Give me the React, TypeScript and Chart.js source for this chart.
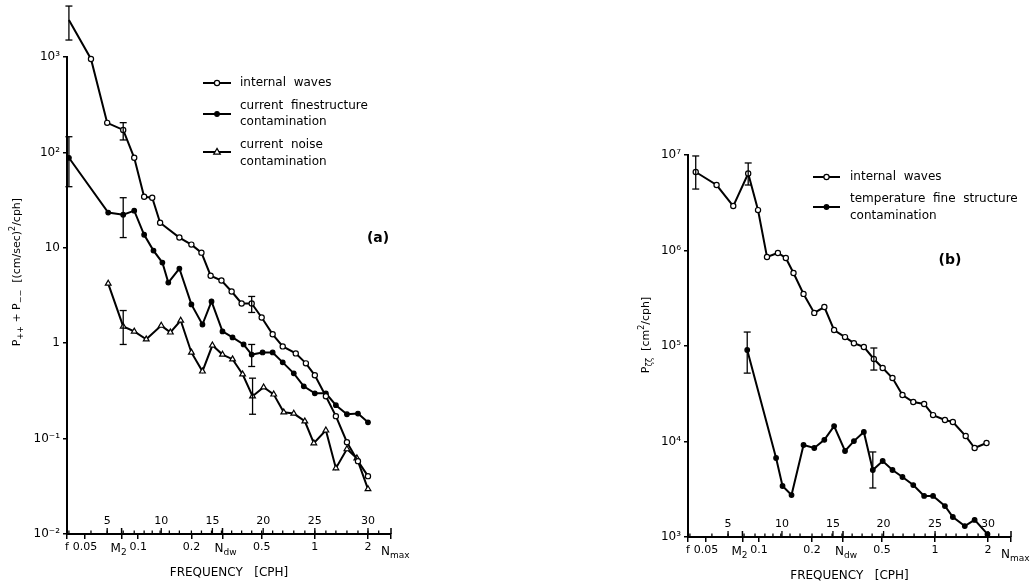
import React, { useEffect, useRef } from 'react';
import { Chart, registerables } from 'chart.js';

Chart.register(...registerables);

const FONT = "'DejaVu Sans', 'Liberation Sans', sans-serif";
Chart.defaults.font.family = FONT;
Chart.defaults.color = '#000';

// ---------- shared axis data ----------
const xTickVals = [0.0395, 0.05, 0.0805, 0.1, 0.2, 0.3, 0.5, 1, 2, 2.7];
const xTickLabels = ['f', '0.05', '', '0.1', '0.2', '', '0.5', '1', '2', ''];
// labels with subscripts, drawn beside their ticks: [frequency, main text, subscript]
const subLabelFreqs = [0.0805, 0.3, 2.7];
const subLabelMain = ['M', 'N', 'N'];
const subLabelSub = ['2', 'dw', 'max'];
const bandTickFreqs = [0.0405, 0.054, 0.0667, 0.0822, 0.0949, 0.108, 0.12, 0.133, 0.15, 0.171, 0.2, 0.228, 0.26, 0.296, 0.338, 0.385, 0.439, 0.5, 0.577, 0.658, 0.76, 0.878, 1.0, 1.155, 1.316, 1.52, 1.755, 2.0, 2.3];
const bandNums = [5, 10, 15, 20, 25, 30];
const bandNumFreqs = [0.0667, 0.135, 0.263, 0.51, 1.0, 2.0];
const crossTickFreqs = [0.0805, 0.3, 2.7];

// ---------- panel (a) ----------
const aYTickVals = [0.01, 0.1, 1, 10, 100, 1000];
const aYTickLabels = ['10⁻²', '10⁻¹', '1', '10', '10²', '10³'];

const aWavesFreq = [0.0405, 0.054, 0.0667, 0.0822, 0.0949, 0.108, 0.12, 0.133, 0.171, 0.2, 0.228, 0.257, 0.296, 0.338, 0.385, 0.439, 0.5, 0.577, 0.658, 0.78, 0.89, 1.0, 1.155, 1.316, 1.52, 1.755, 2.0];
const aWavesVal = [2440, 953, 204, 172, 87.8, 34.3, 33.5, 18.3, 12.8, 10.8, 8.9, 5.1, 4.54, 3.48, 2.61, 2.61, 1.86, 1.24, 0.926, 0.782, 0.615, 0.461, 0.278, 0.172, 0.0917, 0.058, 0.0404];

const aFineFreq = [0.0405, 0.0676, 0.0822, 0.0949, 0.108, 0.122, 0.137, 0.148, 0.171, 0.2, 0.231, 0.26, 0.3, 0.342, 0.395, 0.439, 0.506, 0.577, 0.658, 0.76, 0.866, 1.0, 1.155, 1.316, 1.52, 1.755, 2.0];
const aFineVal = [87.8, 23.4, 22.2, 24.5, 13.7, 9.35, 7.0, 4.32, 6.06, 2.55, 1.57, 2.74, 1.33, 1.15, 0.97, 0.76, 0.8, 0.8, 0.63, 0.483, 0.353, 0.298, 0.298, 0.224, 0.18, 0.183, 0.148];

const aNoiseFreq = [0.0676, 0.0822, 0.0949, 0.111, 0.135, 0.152, 0.174, 0.2, 0.231, 0.263, 0.3, 0.342, 0.39, 0.444, 0.513, 0.585, 0.667, 0.76, 0.878, 0.987, 1.155, 1.316, 1.52, 1.73, 2.0];
const aNoiseVal = [4.22, 1.5, 1.33, 1.1, 1.53, 1.3, 1.73, 0.8, 0.507, 0.95, 0.76, 0.68, 0.472, 0.278, 0.345, 0.291, 0.189, 0.183, 0.152, 0.0896, 0.122, 0.049, 0.0776, 0.0624, 0.0296];

const aErrFreq = [0.0405, 0.0822, 0.439, 0.0405, 0.0822, 0.439, 0.0822, 0.444];
const aErrLow = [1506, 135, 2.1, 43.7, 12.8, 0.57, 0.97, 0.18];
const aErrHigh = [3420, 205, 3.09, 146, 33.5, 0.97, 2.2, 0.43];

// ---------- panel (b) ----------
const bYTickVals = [1e3, 1e4, 1e5, 1e6, 1e7];
const bYTickLabels = ['10³', '10⁴', '10⁵', '10⁶', '10⁷'];

const bWavesFreq = [0.0437, 0.0574, 0.0714, 0.0868, 0.0987, 0.111, 0.128, 0.142, 0.157, 0.179, 0.206, 0.235, 0.267, 0.308, 0.346, 0.394, 0.449, 0.504, 0.573, 0.653, 0.752, 0.867, 0.974, 1.138, 1.262, 1.493, 1.678, 1.96];
const bWavesVal = [6.64e6, 4.85e6, 2.92e6, 6.4e6, 2.65e6, 8.55e5, 9.42e5, 8.34e5, 5.81e5, 3.51e5, 2.22e5, 2.56e5, 1.47e5, 1.24e5, 1.07e5, 9.77e4, 7.31e4, 5.89e4, 4.62e4, 3.07e4, 2.59e4, 2.47e4, 1.89e4, 1.68e4, 1.6e4, 1.14e4, 8.55e3, 9.64e3];

const bFineFreq = [0.0857, 0.125, 0.136, 0.153, 0.179, 0.206, 0.235, 0.267, 0.308, 0.346, 0.394, 0.443, 0.504, 0.573, 0.653, 0.752, 0.867, 0.974, 1.138, 1.262, 1.475, 1.678, 1.985];
const bFineVal = [9.08e4, 6.72e3, 3.42e3, 2.75e3, 9.19e3, 8.55e3, 1.04e4, 1.45e4, 7.95e3, 1.01e4, 1.26e4, 5.03e3, 6.25e3, 5.03e3, 4.25e3, 3.5e3, 2.69e3, 2.69e3, 2.11e3, 1.62e3, 1.3e3, 1.51e3, 1.07e3];

const bErrFreq = [0.0437, 0.0868, 0.449, 0.0857, 0.443];
const bErrLow = [4.4e6, 4.85e6, 5.6e4, 5.2e4, 3.26e3];
const bErrHigh = [9.77e6, 8.25e6, 9.53e4, 1.4e5, 7.77e3];

// ---------- helpers ----------
type Part = { t: string; k?: 'sub' | 'sup' };
type MarkStyle = 'open' | 'filled' | 'triangle';

function partFont(size: number, k?: string) {
  return `${k ? Math.round(size * 0.72) : size}px ${FONT}`;
}
function richWidth(ctx: CanvasRenderingContext2D, parts: Part[], size: number) {
  let w = 0;
  for (const p of parts) {
    ctx.font = partFont(size, p.k);
    w += ctx.measureText(p.t).width;
  }
  return w;
}
function drawRich(ctx: CanvasRenderingContext2D, parts: Part[], x: number, y: number, size: number, align: 'left' | 'center') {
  let cx = align === 'center' ? x - richWidth(ctx, parts, size) / 2 : x;
  ctx.textAlign = 'left';
  ctx.textBaseline = 'middle';
  for (const p of parts) {
    ctx.font = partFont(size, p.k);
    const dy = p.k === 'sub' ? size * 0.32 : p.k === 'sup' ? -size * 0.38 : 0;
    ctx.fillText(p.t, cx, y + dy);
    cx += ctx.measureText(p.t).width;
  }
}
function drawMarker(ctx: CanvasRenderingContext2D, style: MarkStyle, x: number, y: number) {
  ctx.save();
  ctx.lineWidth = 1.2;
  ctx.strokeStyle = '#000';
  ctx.beginPath();
  if (style === 'triangle') {
    ctx.moveTo(x, y - 3.6);
    ctx.lineTo(x + 3.3, y + 2.2);
    ctx.lineTo(x - 3.3, y + 2.2);
    ctx.closePath();
    ctx.fillStyle = '#fff';
  } else {
    ctx.arc(x, y, style === 'open' ? 2.6 : 2.3, 0, Math.PI * 2);
    ctx.fillStyle = style === 'open' ? '#fff' : '#000';
  }
  ctx.fill();
  ctx.stroke();
  ctx.restore();
}

type LegendItem = { style: MarkStyle; y: number; lines: string[]; lineYs: number[] };
type Decor = {
  id: string;
  offsetX: number;
  errFreq: number[];
  errLow: number[];
  errHigh: number[];
  legendX1: number;
  legendX2: number;
  legendTextX: number;
  legend: LegendItem[];
  label: string;
  labelX: number;
  labelY: number;
  yTitle: Part[];
  yTitleX: number;
  yTitleY: number;
  yTitleSize: number;
};

const subLabelDx = [-11, -8, -10];
const subLabelDy = [15, 15, 18];

function decorPlugin(d: Decor) {
  return {
    id: 'decor' + d.id,
    afterDraw(chart: any) {
      const ctx: CanvasRenderingContext2D = chart.ctx;
      const xs = chart.scales.x;
      const ys = chart.scales.y;
      const ca = chart.chartArea;
      const ox = d.offsetX;
      const line = (x1: number, y1: number, x2: number, y2: number) => {
        ctx.beginPath();
        ctx.moveTo(x1, y1);
        ctx.lineTo(x2, y2);
        ctx.stroke();
      };
      ctx.save();
      ctx.strokeStyle = '#000';
      ctx.fillStyle = '#000';

      // band ticks above the frequency axis
      ctx.lineWidth = 1.3;
      for (const f of bandTickFreqs) {
        const px = xs.getPixelForValue(f);
        line(px, ca.bottom, px, ca.bottom - 3.5);
      }
      ctx.font = `11px ${FONT}`;
      ctx.textAlign = 'center';
      ctx.textBaseline = 'middle';
      bandNums.forEach((n, i) => {
        const px = xs.getPixelForValue(bandNumFreqs[i]);
        line(px, ca.bottom, px, ca.bottom - 6);
        ctx.fillText(String(n), px, ca.bottom - 13);
      });
      ctx.lineWidth = 1.5;
      for (const f of crossTickFreqs) {
        const px = xs.getPixelForValue(f);
        line(px, ca.bottom, px, ca.bottom - 6);
      }

      // M2, N_dw and N_max labels (with subscripts)
      subLabelFreqs.forEach((f, i) => {
        const px = xs.getPixelForValue(f);
        drawRich(ctx, [{ t: subLabelMain[i] }, { t: subLabelSub[i], k: 'sub' }], px + subLabelDx[i], ca.bottom + subLabelDy[i], 12, 'left');
      });

      // error bars
      ctx.lineWidth = 1.3;
      d.errFreq.forEach((f, i) => {
        const px = xs.getPixelForValue(f);
        const y1 = ys.getPixelForValue(d.errHigh[i]);
        const y2 = ys.getPixelForValue(d.errLow[i]);
        line(px, y1, px, y2);
        line(px - 3.5, y1, px + 3.5, y1);
        line(px - 3.5, y2, px + 3.5, y2);
      });

      // legend
      for (const it of d.legend) {
        ctx.lineWidth = 2;
        line(d.legendX1 - ox, it.y, d.legendX2 - ox, it.y);
        drawMarker(ctx, it.style, (d.legendX1 + d.legendX2) / 2 - ox, it.y);
        ctx.font = `12px ${FONT}`;
        ctx.textAlign = 'left';
        ctx.textBaseline = 'middle';
        it.lines.forEach((s, j) => ctx.fillText(s, d.legendTextX - ox, it.lineYs[j]));
      }

      // panel label
      ctx.font = `bold 14px ${FONT}`;
      ctx.textAlign = 'center';
      ctx.textBaseline = 'middle';
      ctx.fillText(d.label, d.labelX - ox, d.labelY);

      // y-axis title (rotated)
      ctx.save();
      ctx.translate(d.yTitleX - ox, d.yTitleY);
      ctx.rotate(-Math.PI / 2);
      drawRich(ctx, d.yTitle, 0, 0, d.yTitleSize, 'center');
      ctx.restore();

      ctx.restore();
    },
  };
}

function series(freqs: number[], vals: number[], style: MarkStyle) {
  return {
    data: freqs.map((f, i) => ({ x: f, y: vals[i] })),
    borderColor: '#000',
    borderWidth: 2,
    tension: 0,
    clip: false as any,
    pointStyle: style === 'triangle' ? 'triangle' : 'circle',
    pointRadius: style === 'triangle' ? 3.3 : style === 'open' ? 2.6 : 2.3,
    pointBackgroundColor: style === 'filled' ? '#000' : '#fff',
    pointBorderColor: '#000',
    pointBorderWidth: 1.2,
  };
}

function buildConfig(opts: {
  datasets: any[];
  yMin: number;
  yMax: number;
  yTickVals: number[];
  yTickLabels: string[];
  yWidth: number;
  padding: { left: number; top: number; right: number; bottom: number };
  decor: Decor;
}) {
  return {
    type: 'line' as const,
    data: { datasets: opts.datasets },
    options: {
      animation: false as const,
      responsive: false,
      layout: { padding: opts.padding, autoPadding: false },
      plugins: { legend: { display: false }, tooltip: { enabled: false } },
      scales: {
        x: {
          type: 'logarithmic' as const,
          min: 0.0395,
          max: 2.7,
          afterBuildTicks: (s: any) => {
            s.ticks = xTickVals.map((v) => ({ value: v }));
          },
          afterFit: (s: any) => {
            s.height = 46;
          },
          ticks: {
            autoSkip: false,
            maxRotation: 0,
            minRotation: 0,
            color: '#000',
            padding: 2,
            font: { size: 11 },
            callback: (_v: any, i: number) => xTickLabels[i],
          },
          grid: { drawOnChartArea: false, drawTicks: true, tickLength: 5, color: '#000', lineWidth: 1.5 },
          border: { display: true, color: '#000', width: 2 },
          title: { display: true, text: 'FREQUENCY   [CPH]', color: '#000', font: { size: 12 }, padding: 0 },
        },
        y: {
          type: 'logarithmic' as const,
          min: opts.yMin,
          max: opts.yMax,
          afterBuildTicks: (s: any) => {
            s.ticks = opts.yTickVals.map((v) => ({ value: v }));
          },
          afterFit: (s: any) => {
            s.width = opts.yWidth;
          },
          ticks: {
            color: '#000',
            padding: 3,
            font: { size: 12 },
            callback: (_v: any, i: number) => opts.yTickLabels[i],
          },
          grid: { drawOnChartArea: false, drawTicks: true, tickLength: 4, color: '#000', lineWidth: 1.5 },
          border: { display: true, color: '#000', width: 2 },
        },
      },
    },
    plugins: [decorPlugin(opts.decor)],
  };
}

const decorA: Decor = {
  id: 'a',
  offsetX: 0,
  errFreq: aErrFreq,
  errLow: aErrLow,
  errHigh: aErrHigh,
  legendX1: 203,
  legendX2: 231,
  legendTextX: 240,
  legend: [
    { style: 'open', y: 83, lines: ['internal  waves'], lineYs: [83] },
    { style: 'filled', y: 114, lines: ['current  finestructure', 'contamination'], lineYs: [106, 122] },
    { style: 'triangle', y: 152, lines: ['current  noise', 'contamination'], lineYs: [145, 162] },
  ],
  label: '(a)',
  labelX: 378,
  labelY: 238,
  yTitle: [
    { t: 'P' }, { t: '++', k: 'sub' }, { t: ' + P' }, { t: '−−', k: 'sub' }, { t: '  [(cm/sec)' }, { t: '2', k: 'sup' }, { t: '/cph]' },
  ],
  yTitleX: 17,
  yTitleY: 272,
  yTitleSize: 11,
};

const decorB: Decor = {
  id: 'b',
  offsetX: 600,
  errFreq: bErrFreq,
  errLow: bErrLow,
  errHigh: bErrHigh,
  legendX1: 813,
  legendX2: 840,
  legendTextX: 850,
  legend: [
    { style: 'open', y: 177, lines: ['internal  waves'], lineYs: [177] },
    { style: 'filled', y: 207, lines: ['temperature  fine  structure', 'contamination'], lineYs: [199, 216] },
  ],
  label: '(b)',
  labelX: 950,
  labelY: 260,
  yTitle: [{ t: 'P' }, { t: 'ζζ', k: 'sub' }, { t: '  [cm' }, { t: '2', k: 'sup' }, { t: '/cph]' }],
  yTitleX: 646,
  yTitleY: 335,
  yTitleSize: 11,
};

export default function App() {
  const refA = useRef<HTMLCanvasElement>(null);
  const refB = useRef<HTMLCanvasElement>(null);

  useEffect(() => {
    const chartA = new Chart(
      refA.current as HTMLCanvasElement,
      buildConfig({
        datasets: [
          series(aWavesFreq, aWavesVal, 'open'),
          series(aFineFreq, aFineVal, 'filled'),
          series(aNoiseFreq, aNoiseVal, 'triangle'),
        ],
        yMin: 0.01,
        yMax: 1000,
        yTickVals: aYTickVals,
        yTickLabels: aYTickLabels,
        yWidth: 67,
        padding: { left: 0, top: 57, right: 49, bottom: 7 },
        decor: decorA,
      }) as any
    );
    const chartB = new Chart(
      refB.current as HTMLCanvasElement,
      buildConfig({
        datasets: [series(bWavesFreq, bWavesVal, 'open'), series(bFineFreq, bFineVal, 'filled')],
        yMin: 1e3,
        yMax: 1e7,
        yTickVals: bYTickVals,
        yTickLabels: bYTickLabels,
        yWidth: 88,
        padding: { left: 0, top: 155, right: 25, bottom: 4 },
        decor: decorB,
      }) as any
    );
    return () => {
      chartA.destroy();
      chartB.destroy();
    };
  }, []);

  return (
    <div style={{ position: 'absolute', left: 0, top: 0, width: 1036, height: 587, background: '#fff', overflow: 'hidden' }}>
      <canvas ref={refA} width={440} height={587} style={{ position: 'absolute', left: 0, top: 0 }} />
      <canvas ref={refB} width={436} height={587} style={{ position: 'absolute', left: 600, top: 0 }} />
    </div>
  );
}
